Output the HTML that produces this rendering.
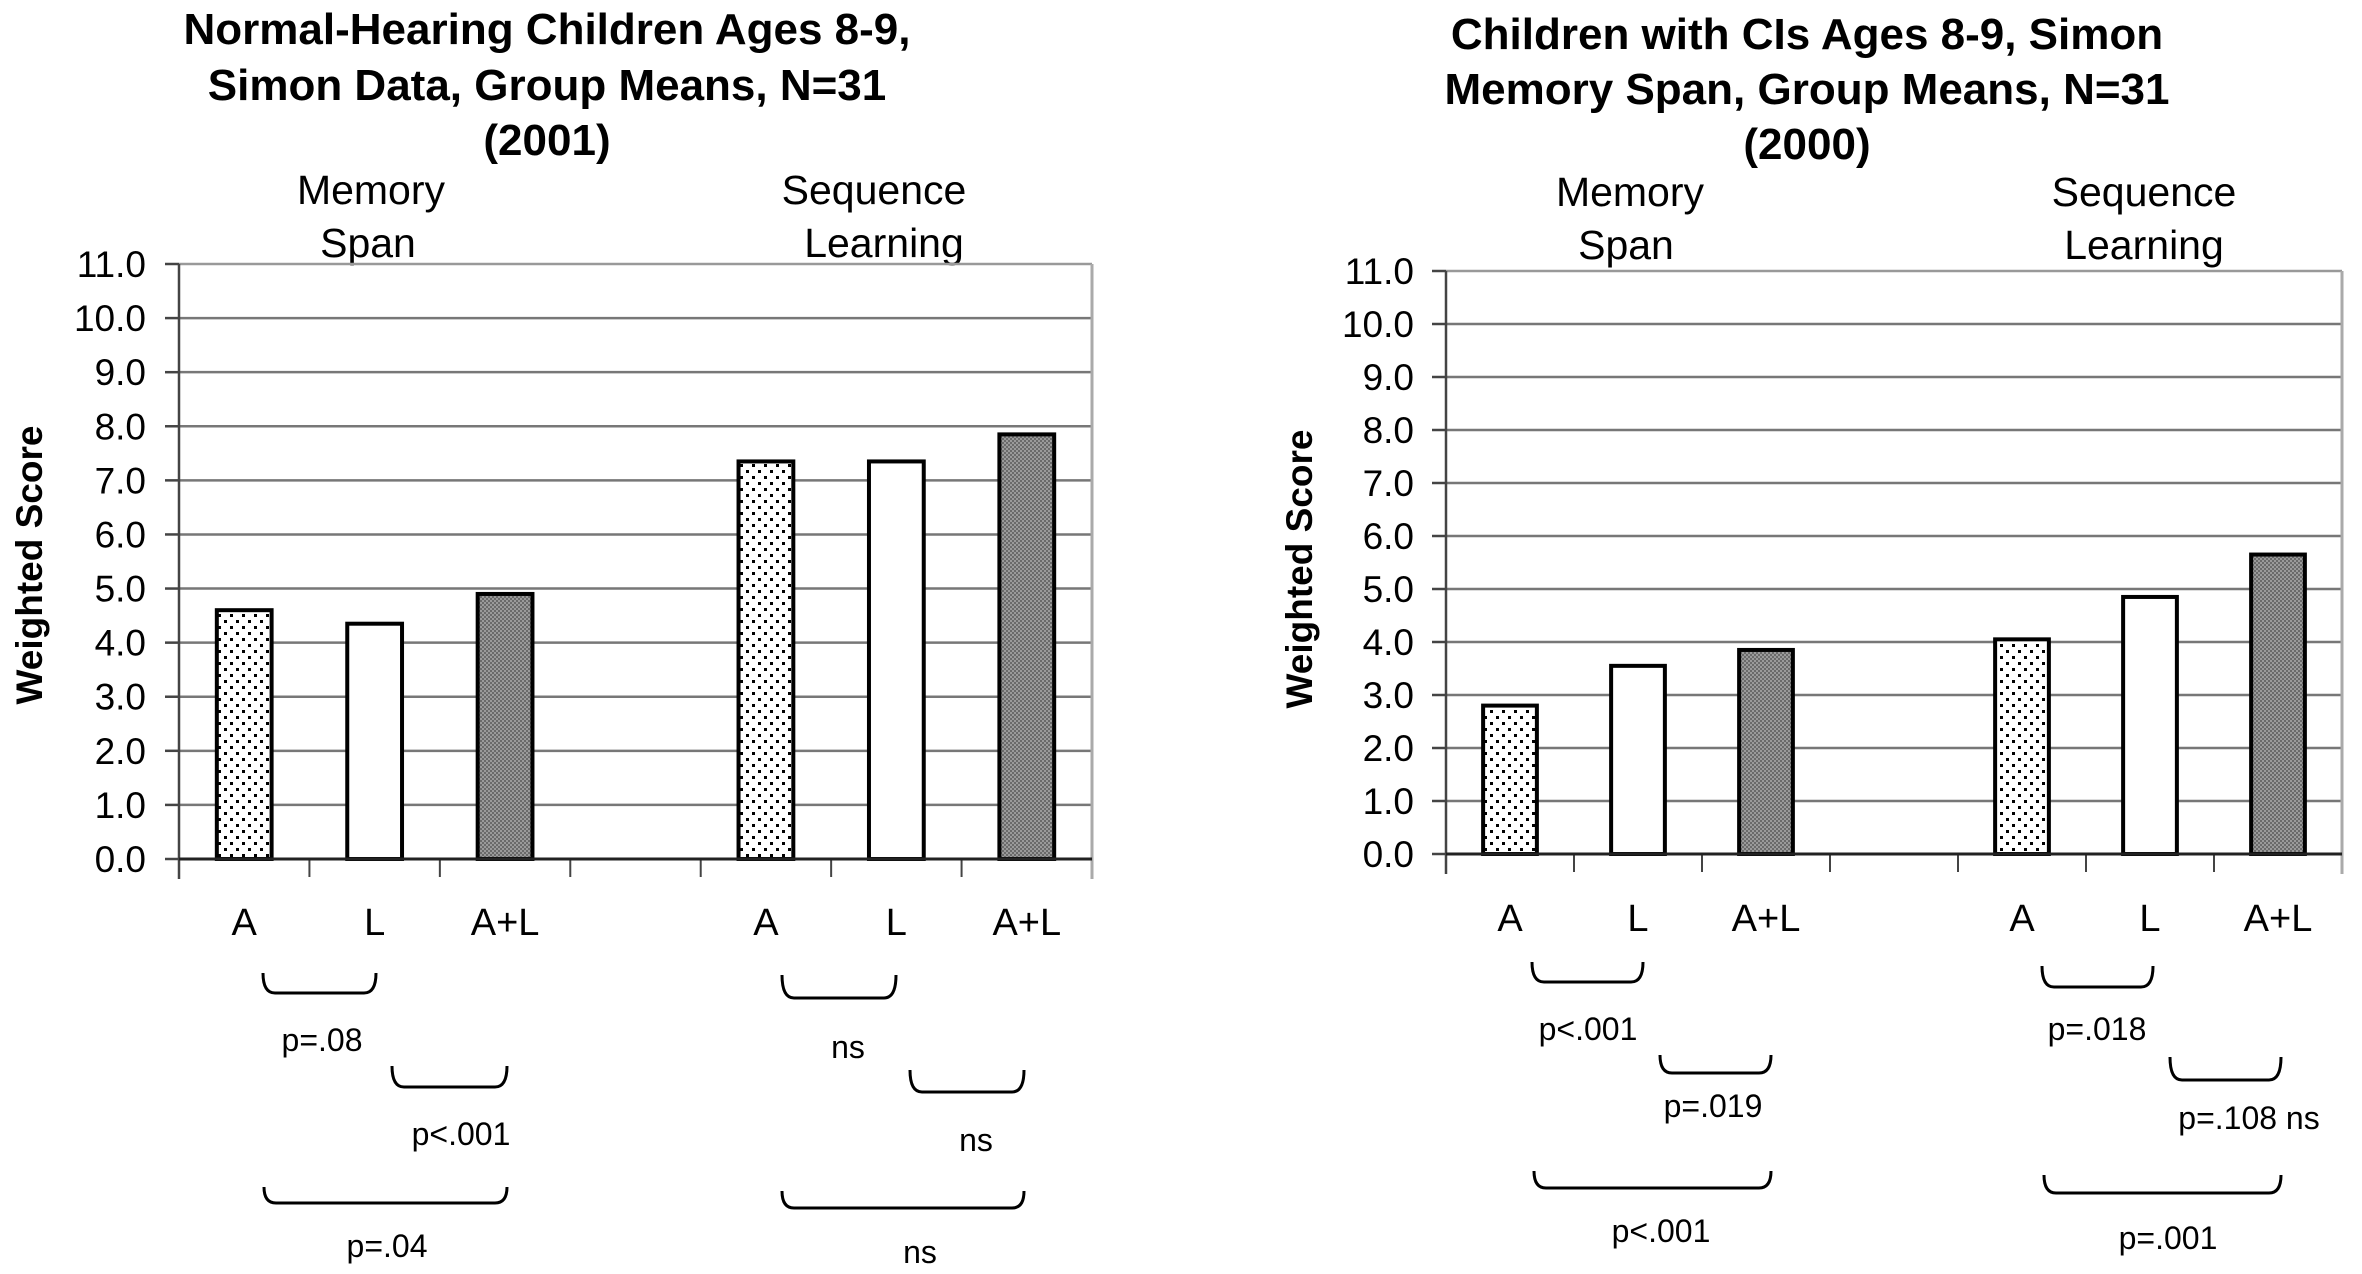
<!DOCTYPE html>
<html><head><meta charset="utf-8">
<style>
html,body{margin:0;padding:0;background:#fff;}
svg{display:block;font-family:"Liberation Sans",Arial,sans-serif;}
</style></head>
<body>
<svg id="fig" width="2362" height="1274" viewBox="0 0 2362 1274">
<defs>
<pattern id="dots" width="12" height="12" patternUnits="userSpaceOnUse">
<rect width="12" height="12" fill="#fff"/>
<rect x="2" y="2" width="3" height="3" fill="#000"/>
<rect x="8" y="8" width="3" height="3" fill="#000"/>
</pattern>
<pattern id="dark" width="4" height="4" patternUnits="userSpaceOnUse">
<rect width="4" height="4" fill="#9a9a9a"/>
<rect width="2" height="2" fill="#6a6a6a"/>
<rect x="2" y="2" width="2" height="2" fill="#6a6a6a"/>
</pattern>
</defs>
</svg>
<script>
const categories = ["A","L","A+L","","A","L","A+L"];
const valuesNH = [4.6, 4.35, 4.9, null, 7.35, 7.35, 7.85];
const valuesCI = [2.8, 3.55, 3.85, null, 4.05, 4.85, 5.65];
const yTicks = [0,1,2,3,4,5,6,7,8,9,10,11];
const fills = ["url(#dots)","#fff","url(#dark)"];

const NS = "http://www.w3.org/2000/svg";
const svg = document.getElementById("fig");
function mk(tag, attrs, parent){
  const e = document.createElementNS(NS, tag);
  for (const k in attrs) e.setAttribute(k, attrs[k]);
  (parent||svg).appendChild(e);
  return e;
}
function txt(s, x, y, size, weight, anchor, parent){
  const t = mk("text", {x:x, y:y, "font-size":size, "font-weight":weight||"normal", "text-anchor":anchor||"middle", fill:"#000"}, parent);
  t.textContent = s;
  return t;
}

function chart(cfg){
  const g = mk("g", {});
  
  
  const L = cfg.left, R = cfg.right, T = cfg.top, B = cfg.bottom;
  const ymax = 11;
  const yS = v => B - (B - T) * v / ymax;
  const cw = (R - L) / categories.length;
  const xC = i => L + cw * (i + 0.5);
  cfg.title.forEach((s, i) => {
    const t = txt(s, cfg.titleX, cfg.titleY[i], 44, "bold", "middle", g);
    
    
  });
  cfg.groups.forEach(gr => {
    gr.lines.forEach((s, i) => {
      const t = txt(s, gr.x[i], cfg.subY[i], 41, "normal", "middle", g);
      
      
    });
  });
  yTicks.forEach(v => {
    const y = yS(v);
    if (v > 0) {
      const ln = mk("line", {x1:L, x2:R, y1:y, y2:y, stroke: v===11 ? "#999" : "#777", "stroke-width":2.5}, g);
      
      
    }
    mk("line", {x1:L-14, x2:L, y1:y, y2:y, stroke:"#444", "stroke-width":2.5}, g);
    const t = txt(v.toFixed(1), cfg.tickX, y + 13, 37, "normal", "end", g);
    
    
  });
  mk("line", {x1:R, x2:R, y1:T, y2:B+20, stroke:"#aaa", "stroke-width":3}, g);
  mk("line", {x1:L, x2:L, y1:T, y2:B+20, stroke:"#444", "stroke-width":2.5}, g);
  for (let i = 1; i < categories.length; i++) {
    mk("line", {x1:L+cw*i, x2:L+cw*i, y1:B, y2:B+18, stroke:"#444", "stroke-width":2}, g);
  }
  const bw = cw * 0.42;
  cfg.values.forEach((v, i) => {
    if (v === null) return;
    const y = yS(v);
    const r = mk("rect", {x:xC(i)-bw/2, y:y, width:bw, height:B-y, fill:fills[i>3?i-4:i], stroke:"#000", "stroke-width":4}, g);
    
    
  });
  mk("line", {x1:L, x2:R, y1:B, y2:B, stroke:"#222", "stroke-width":3}, g);
  categories.forEach((c, i) => {
    if (!c) return;
    const t = txt(c, xC(i), cfg.catY, 38, "normal", "middle", g);
    
    
  });
  const yt = txt("Weighted Score", 0, 0, 37, "bold", "middle", g);
  yt.setAttribute("transform", `translate(${cfg.yTitleX},${cfg.yTitleY}) rotate(-90)`);
  
  
  cfg.brackets.forEach(b => {
    const [x1, x2, y1, y2, label, lx, ly] = b;
    const p = mk("path", {d:`M${x1},${y1} Q${x1},${y2} ${x1+12},${y2} L${x2-12},${y2} Q${x2},${y2} ${x2},${y1}`, fill:"none", stroke:"#000", "stroke-width":3}, g);
    
    
    const t = txt(label, lx, ly + 11, 32, "normal", "middle", g);
    
    
  });
}

chart({
  name: "chart-normal-hearing",
  left:179, right:1092, top:264, bottom:859,
  values: valuesNH,
  title: ["Normal-Hearing Children Ages 8-9,", "Simon Data, Group Means, N=31", "(2001)"],
  titleX: 547, titleY: [44, 100, 155],
  subY: [204, 257],
  groups: [{lines:["Memory","Span"], x:[371,368]}, {lines:["Sequence","Learning"], x:[874,884]}],
  tickX: 146, catY: 935,
  yTitleX: 42, yTitleY: 565,
  brackets: [
    [263,376,973,993,"p=.08",322,1040],
    [392,507,1066,1087,"p<.001",461,1134],
    [264,507,1187,1203,"p=.04",387,1246],
    [782,896,975,998,"ns",848,1047],
    [910,1024,1070,1092,"ns",976,1140],
    [782,1024,1191,1208,"ns",920,1252]
  ]
});

chart({
  name: "chart-cochlear-implant",
  left:1446, right:2342, top:271, bottom:854,
  values: valuesCI,
  title: ["Children with CIs Ages 8-9, Simon", "Memory Span, Group Means, N=31", "(2000)"],
  titleX: 1807, titleY: [49, 104, 159],
  subY: [206, 259],
  groups: [{lines:["Memory","Span"], x:[1630,1626]}, {lines:["Sequence","Learning"], x:[2144,2144]}],
  tickX: 1414, catY: 931,
  yTitleX: 1312, yTitleY: 569,
  brackets: [
    [1532,1643,962,982,"p<.001",1588,1029],
    [1660,1771,1055,1073,"p=.019",1713,1106],
    [1534,1771,1171,1188,"p<.001",1661,1231],
    [2042,2153,966,987,"p=.018",2097,1029],
    [2170,2281,1057,1080,"p=.108 ns",2249,1118],
    [2044,2281,1175,1193,"p=.001",2168,1238]
  ]
});
</script>
</body></html>
